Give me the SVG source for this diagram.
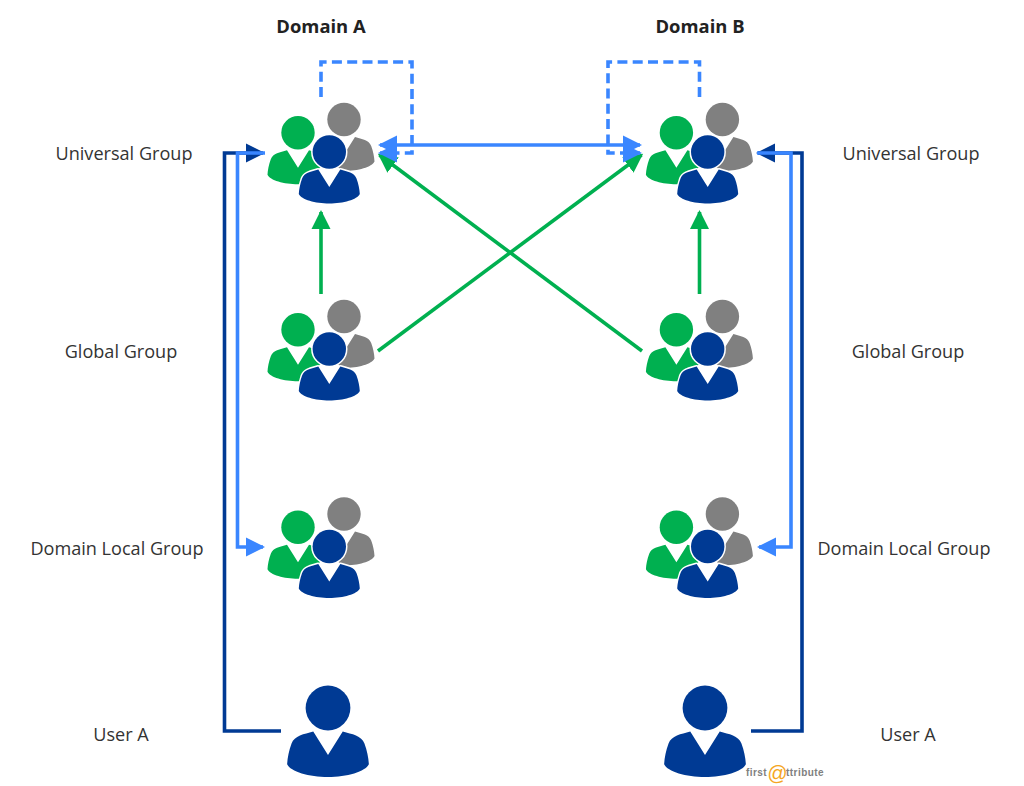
<svg xmlns="http://www.w3.org/2000/svg" width="1024" height="786" viewBox="0 0 1024 786">
<style>
text{font-family:"Open Sans","Noto Sans","Liberation Sans",sans-serif;font-size:18.1px;fill:#333;}
.t{font-weight:700;fill:#222;text-anchor:middle;font-size:18.4px}
.m{text-anchor:middle}
.c{fill:none;stroke-width:3.6}
.dk{stroke:#003a94}
.lt{stroke:#3a86ff}
.gr{stroke:#00b050}
.da{stroke-dasharray:10 5.3}
.b{paint-order:stroke;stroke-linejoin:round}
.lg{font-size:10px;font-weight:700;fill:#808080;font-family:"Liberation Sans",sans-serif;letter-spacing:.45px}
</style>
<defs>
<marker id="hd" markerUnits="userSpaceOnUse" markerWidth="20" markerHeight="20" refX="17" refY="10" orient="auto"><path d="M0,0.500L19,10L0,19.500Z" fill="#003a94"/></marker>
<marker id="hl" markerUnits="userSpaceOnUse" markerWidth="20" markerHeight="20" refX="17" refY="10" orient="auto-start-reverse"><path d="M0,0.500L19,10L0,19.500Z" fill="#3a86ff"/></marker>
<marker id="hg" markerUnits="userSpaceOnUse" markerWidth="20" markerHeight="20" refX="17" refY="10" orient="auto"><path d="M0,0.500L19,10L0,19.500Z" fill="#00b050"/></marker>
<g id="p"><path d="M-11,17L0,35L11,17L0,8Z" fill="#fff" stroke="none"/><circle class="b" r="16.700"/><path class="b" d="M-11,17.500L0,35L11,17.500C18,19.500 25,20.500 27.200,26.500C29.200,32 30.200,37 30.500,42C28,47.500 14,51.500 0,51.500C-14,51.500 -28,47.500 -30.500,42C-30.200,37 -29.200,32 -27.200,26.500C-25,20.500 -18,19.500 -11,17.500Z"/></g>
<g id="grp">
<use href="#p" x="14.700" y="-32.500" fill="#808080" stroke="#fff" stroke-width="1"/>
<use href="#p" x="-31.300" y="-19.300" fill="#00b050" stroke="#fff" stroke-width="1"/>
<use href="#p" fill="#003a94" stroke="#fff" stroke-width="3"/>
</g>
</defs>
<rect width="1024" height="786" fill="#fff"/>

<g id="connectors">
<path class="c gr" d="M321,294V212" marker-end="url(#hg)"/>
<path class="c gr" d="M699.500,294V212" marker-end="url(#hg)"/>
<path class="c gr" d="M378,351L641.500,155" marker-end="url(#hg)"/>
<path class="c gr" d="M642,351L379.500,155" marker-end="url(#hg)"/>
<path class="c dk" d="M281,731H224.500V153H263" marker-end="url(#hd)"/>
<path class="c dk" d="M751,731H802V153H758" marker-end="url(#hd)"/>
<path class="c lt" d="M265,153H237.500V547H263" marker-end="url(#hl)"/>
<path class="c lt" d="M757,153H791V547H759" marker-end="url(#hl)"/>
<path class="c lt" d="M380,145H640" marker-start="url(#hl)" marker-end="url(#hl)"/>
<path class="c lt da" d="M321,97V62H412V153H380" marker-end="url(#hl)"/>
<path class="c lt da" d="M699.500,97V62H608V153H640" marker-end="url(#hl)"/>
</g>

<g id="node-a-universal"><use href="#grp" x="329.300" y="152"/><text x="124" y="159.500" class="m">Universal Group</text></g>
<g id="node-a-global"><use href="#grp" x="329.300" y="349"/><text x="121" y="357.500" class="m">Global Group</text></g>
<g id="node-a-local"><use href="#grp" x="329.300" y="546.500"/><text x="117" y="554.500" class="m">Domain Local Group</text></g>
<g id="node-a-user"><use href="#p" transform="translate(328,708) scale(1.34)" fill="#003a94"/><text x="121" y="741" class="m">User A</text></g>

<g id="node-b-universal"><use href="#grp" x="707.700" y="152"/><text x="911" y="159.500" class="m">Universal Group</text></g>
<g id="node-b-global"><use href="#grp" x="707.700" y="349"/><text x="908" y="357.500" class="m">Global Group</text></g>
<g id="node-b-local"><use href="#grp" x="707.700" y="546.500"/><text x="904" y="554.500" class="m">Domain Local Group</text></g>
<g id="node-b-user"><use href="#p" transform="translate(705,708) scale(1.34)" fill="#003a94"/><text x="908" y="741" class="m">User A</text></g>

<g id="titles">
<text x="321" y="33" class="t">Domain A</text>
<text x="700" y="33" class="t">Domain B</text>
</g>
<g id="logo">
<text x="746" y="776" class="lg">first</text>
<text x="767" y="780" style="font-size:20px;font-style:italic;fill:#f5a623;font-family:'Liberation Sans',sans-serif">@</text>
<text x="786" y="776" class="lg">ttribute</text>
</g>
</svg>
